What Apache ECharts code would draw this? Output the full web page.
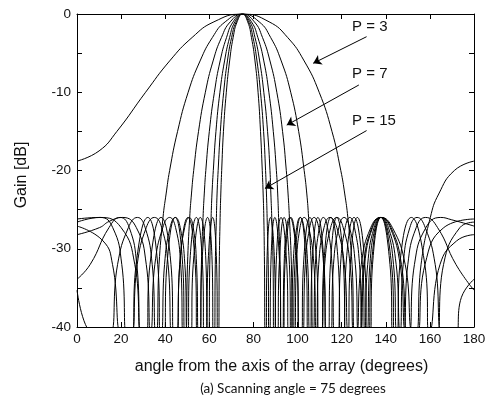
<!DOCTYPE html>
<html><head><meta charset="utf-8">
<script src="https://cdn.jsdelivr.net/npm/echarts/dist/echarts.min.js"></script>
<style>html,body{margin:0;padding:0;background:#fff}#c{width:500px;height:408px}</style>
</head><body><div id="c"></div>
<script>
// Gain [dB] vs angle (degrees) for array sizes P
const p3 = [[0,-18.8],[10,-17.5],[18.1,-15],[31.1,-10],[42,-6],[52.2,-3],[62.1,-1],[75,0],[87.1,-1],[95.5,-3],[103,-6],[109.8,-10],[115.6,-15],[119.6,-20],[121.4,-23],[122.8,-26],[124.7,-32],[126.1,-41],[127.9,-41],[130,-32],[133.7,-27.3],[137.8,-26],[142.4,-27.3],[147.1,-32],[150.3,-41],[153.3,-41],[156,-32],[160.2,-26],[164,-23],[171.1,-20],[180,-18.8]];
const p5 = [[0,-28.2],[10.2,-27.3],[14.6,-26.5],[20.6,-26],[26.9,-27.3],[31.4,-32],[33.8,-41],[35.7,-41],[37.2,-32],[39,-26],[40.4,-23],[42,-20],[45.6,-15],[50.4,-10],[55.8,-6],[61.4,-3],[67.2,-1],[75,0],[82.6,-1],[87.8,-3],[92.6,-6],[96.9,-10],[100.5,-15],[103,-20],[104.2,-23],[105,-26],[106.2,-32],[107.1,-41],[108.3,-41],[109.6,-32],[112,-27.3],[114.7,-26],[117.8,-27.3],[121.2,-32],[123.6,-41],[126.2,-41],[128.9,-32],[133.2,-27.3],[137.8,-26],[143,-27.3],[148.8,-32],[153.2,-41],[158.2,-41],[164.6,-32],[172.1,-29],[180,-28.2]];
const p7 = [[0,-26.2],[10.3,-26],[20,-27.3],[26.2,-32],[29.6,-41],[32.6,-41],[35.3,-32],[38.9,-27.3],[42,-26],[44.7,-27.3],[47,-32],[48.2,-41],[49.2,-41],[50.1,-32],[51.1,-26],[51.9,-23],[52.9,-20],[55.1,-15],[58.2,-10],[61.7,-6],[65.5,-3],[69.5,-1],[75,0],[80.4,-1],[84.1,-3],[87.5,-6],[90.6,-10],[93.2,-15],[94.9,-20],[95.7,-23],[96.3,-26],[97.2,-32],[97.8,-41],[98.6,-41],[99.5,-32],[101.1,-27.3],[103,-26],[105.1,-27.3],[107.4,-32],[108.9,-41],[110.6,-41],[112.3,-32],[115,-27.3],[117.8,-26],[120.7,-27.3],[123.8,-32],[125.9,-41],[128.1,-41],[130.4,-32],[134,-27.3],[137.8,-26],[142,-27.3],[146.5,-32],[149.9,-41],[153.6,-41],[157.8,-32],[166.3,-27.3],[180,-26.2]];
const p9 = [[0,-27.1],[11.8,-29],[16.1,-32],[20.5,-41],[24.1,-41],[27.3,-32],[31.4,-27.3],[35.1,-26],[38.4,-27.3],[41.3,-32],[43.2,-41],[44.9,-41],[46.6,-32],[48.8,-27.3],[50.9,-26],[52.7,-27.3],[54.2,-32],[55.1,-41],[55.8,-41],[56.4,-32],[57.15,-26],[57.7,-23],[58.4,-20],[60,-15],[62.3,-10],[64.9,-6],[67.8,-3],[70.8,-1],[75,0],[79.1,-1],[82,-3],[84.7,-6],[87,-10],[89,-15],[90.4,-20],[91,-23],[91.4,-26],[92.1,-32],[92.6,-41],[93.2,-41],[93.9,-32],[95.1,-27.3],[96.5,-26],[98.1,-27.3],[99.8,-32],[101,-41],[102.2,-41],[103.5,-32],[105.5,-27.3],[107.5,-26],[109.6,-27.3],[111.8,-32],[113.3,-41],[114.8,-41],[116.3,-32],[118.7,-27.3],[121.1,-26],[123.6,-27.3],[126.2,-32],[128,-41],[129.9,-41],[131.8,-32],[134.7,-27.3],[137.8,-26],[141.2,-27.3],[144.7,-32],[147.3,-41],[150.1,-41],[153,-32],[158.2,-27.3],[164.9,-26],[169.9,-26.3],[180,-27.1]];
const p11 = [[0,-35.3],[8.2,-41],[14.3,-41],[18.4,-32],[23.3,-27.3],[27.4,-26],[30.9,-27.3],[34.1,-32],[36.1,-41],[37.9,-41],[39.7,-32],[42.2,-27.3],[44.6,-26],[46.8,-27.3],[48.9,-32],[50.2,-41],[51.5,-41],[52.7,-32],[55.9,-26],[58.5,-32],[59.1,-41],[59.7,-41],[60.2,-32],[60.8,-26],[61.2,-23],[61.8,-20],[63,-15],[64.8,-10],[66.9,-6],[69.2,-3],[71.6,-1],[75,0],[78.4,-1],[80.7,-3],[82.8,-6],[84.7,-10],[86.4,-15],[87.5,-20],[87.9,-23],[88.3,-26],[88.9,-32],[89.2,-41],[89.7,-41],[90.3,-32],[92.5,-26],[95.1,-32],[96,-41],[97,-41],[98,-32],[99.6,-27.3],[101.2,-26],[102.9,-27.3],[104.6,-32],[105.7,-41],[106.9,-41],[108.1,-32],[109.9,-27.3],[111.7,-26],[113.6,-27.3],[115.6,-32],[116.9,-41],[118.2,-41],[119.5,-32],[121.6,-27.3],[123.7,-26],[125.8,-27.3],[128.1,-32],[129.6,-41],[131.2,-41],[132.8,-32],[135.2,-27.3],[137.8,-26],[140.6,-27.3],[143.5,-32],[145.5,-41],[147.7,-41],[150,-32],[153.8,-27.3],[158.1,-26],[163.5,-27.3],[171.8,-32],[180,-35.3]];
const p13 = [[0,-33.9],[6,-32],[14.5,-27.3],[19.6,-26],[23.7,-27.3],[27.1,-32],[29.2,-41],[31.2,-41],[33.1,-32],[38.1,-26],[42.6,-32],[44,-41],[45.3,-41],[46.6,-32],[50.3,-26],[53.6,-32],[54.6,-41],[55.7,-41],[56.6,-32],[59.2,-26],[61.3,-32],[61.8,-41],[62.3,-41],[62.7,-32],[63.2,-26],[63.5,-23],[64,-20],[65,-15],[66.5,-10],[68.2,-6],[70.1,-3],[72.2,-1],[75,0],[77.8,-1],[79.8,-3],[81.6,-6],[83.2,-10],[84.6,-15],[85.5,-20],[85.9,-23],[86.2,-26],[86.7,-32],[87,-41],[87.4,-41],[87.9,-32],[89.7,-26],[91.9,-32],[92.7,-41],[93.5,-41],[94.3,-32],[97,-26],[99.8,-32],[100.7,-41],[101.7,-41],[102.7,-32],[105.6,-26],[108.7,-32],[109.7,-41],[110.8,-41],[111.9,-32],[115.1,-26],[118.5,-32],[119.6,-41],[120.8,-41],[122,-32],[125.6,-26],[129.4,-32],[130.8,-41],[132.1,-41],[133.5,-32],[137.8,-26],[142.6,-32],[144.3,-41],[146.1,-41],[147.9,-32],[150.9,-27.3],[154.2,-26],[157.9,-27.3],[162.4,-32],[166.2,-41],[171.2,-41],[174.3,-36.2],[180,-33.9]];
const p15 = [[0,-26.6],[10.5,-26],[16.2,-27.3],[20.3,-32],[22.7,-41],[24.8,-41],[26.8,-32],[32.1,-26],[36.6,-32],[38,-41],[39.4,-41],[40.8,-32],[44.5,-26],[47.9,-32],[49,-41],[50.1,-41],[51.1,-32],[54.1,-26],[56.9,-32],[57.7,-41],[58.6,-41],[59.4,-32],[61.5,-26],[63.3,-32],[63.8,-41],[64.2,-41],[64.5,-32],[64.9,-26],[65.2,-23],[65.6,-20],[66.4,-15],[67.7,-10],[69.2,-6],[70.8,-3],[72.6,-1],[75,0],[77.4,-1],[79.1,-3],[80.7,-6],[82.1,-10],[83.2,-15],[84,-20],[84.4,-23],[84.7,-26],[85,-32],[85.3,-41],[85.7,-41],[86.1,-32],[87.7,-26],[89.6,-32],[90.2,-41],[90.9,-41],[91.7,-32],[93.9,-26],[96.3,-32],[97.1,-41],[97.9,-41],[98.8,-32],[101.3,-26],[103.9,-32],[104.8,-41],[105.7,-41],[106.6,-32],[109.2,-26],[112,-32],[113,-41],[113.9,-41],[114.9,-32],[117.8,-26],[120.8,-32],[121.8,-41],[122.8,-41],[123.9,-32],[127.1,-26],[130.5,-32],[131.6,-41],[132.8,-41],[134,-32],[137.8,-26],[141.9,-32],[143.4,-41],[144.9,-41],[146.4,-32],[151.6,-26],[157.7,-32],[160.1,-41],[162.9,-41],[166.2,-32],[173.6,-27.3],[180,-26.6]];

const curveNames = ['P = 3','P = 5','P = 7','P = 9','P = 11','P = 13','P = 15'];
const curves = [p3, p5, p7, p9, p11, p13, p15];
const xTickValues = [0, 20, 40, 60, 80, 100, 120, 140, 160, 180];
const yTickLabels = [0, -10, -20, -30, -40];
const annotationTexts = ['P = 3', 'P = 7', 'P = 15'];

const TXT = '#111';
const FONT = 'Liberation Sans';
const chart = echarts.init(document.getElementById('c'), null, {renderer: 'canvas'});

const series = curves.map((d, i) => ({
  name: curveNames[i], type: 'line', data: d, showSymbol: false, symbol: 'none',
  smooth: 0.5, clip: true, silent: true,
  lineStyle: {color: '#000', width: 1}, z: 2
}));
series.push({
  type: 'line', data: [], silent: true,
  markLine: {
    silent: true, animation: false, symbol: ['none', 'arrow'], symbolSize: 8,
    label: {show: false},
    lineStyle: {color: '#000', width: 1, type: 'solid'},
    data: [
      [{coord: [131.3, -2.9]}, {coord: [107.1, -6.3]}],
      [{coord: [127.8, -9.07]}, {coord: [95.1, -14.2]}],
      [{coord: [131.3, -14.9]}, {coord: [85.2, -22.3]}]
    ]
  }
});

const axisCommon = {
  type: 'value',
  axisLine: {show: true, onZero: false, lineStyle: {color: '#000', width: 1}},
  axisTick: {show: true, inside: true, length: 5, lineStyle: {color: '#000', width: 1}},
  splitLine: {show: false}
};

chart.setOption({
  animation: false,
  backgroundColor: '#fff',
  grid: {left: 77, top: 14, right: 26, bottom: 81, containLabel: false, outerBoundsMode: 'none'},
  xAxis: [
    Object.assign({}, axisCommon, {min: 0, max: 180, interval: 20, position: 'bottom',
      axisLabel: {show: true, color: TXT, fontSize: 13.5, fontFamily: FONT, margin: 5,
        showMinLabel: true, showMaxLabel: true,
        formatter: v => xTickValues.includes(v) ? String(v) : ''}}),
    Object.assign({}, axisCommon, {min: 0, max: 180, interval: 20, position: 'top',
      axisLabel: {show: false}})
  ],
  yAxis: [
    Object.assign({}, axisCommon, {min: -40, max: 0, interval: 5, position: 'left',
      axisLabel: {show: true, color: TXT, fontSize: 13.5, fontFamily: FONT, margin: 6,
        showMinLabel: true, showMaxLabel: true,
        formatter: v => yTickLabels.includes(v) ? String(v) : ''}}),
    Object.assign({}, axisCommon, {min: -40, max: 0, interval: 5, position: 'right',
      axisLabel: {show: false}})
  ],
  series: series
});

const annPos = [[124.7, -1.66], [124.7, -7.67], [124.7, -13.67]];
const g = [];
annotationTexts.forEach((t, i) => {
  const p = chart.convertToPixel({xAxisIndex: 0, yAxisIndex: 0}, annPos[i]);
  g.push({type: 'text', x: p[0], y: p[1], style: {text: t, fill: TXT, font: '15px "Liberation Sans"', textAlign: 'left', textVerticalAlign: 'middle'}, silent: true});
});
g.push({type: 'text', x: 281.5, y: 367, style: {text: 'angle from the axis of the array (degrees)', fill: TXT, font: '16px "Liberation Sans"', textAlign: 'center', textVerticalAlign: 'middle'}, silent: true});
g.push({type: 'text', x: 293, y: 389, style: {text: '(a) Scanning angle = 75 degrees', fill: TXT, font: '13.5px Lato', textAlign: 'center', textVerticalAlign: 'middle'}, silent: true});
g.push({type: 'text', x: 22, y: 175, rotation: Math.PI / 2, style: {text: 'Gain [dB]', fill: TXT, font: '16px "Liberation Sans"', textAlign: 'center', textVerticalAlign: 'middle'}, silent: true});
chart.setOption({graphic: g});
</script>
</body></html>
